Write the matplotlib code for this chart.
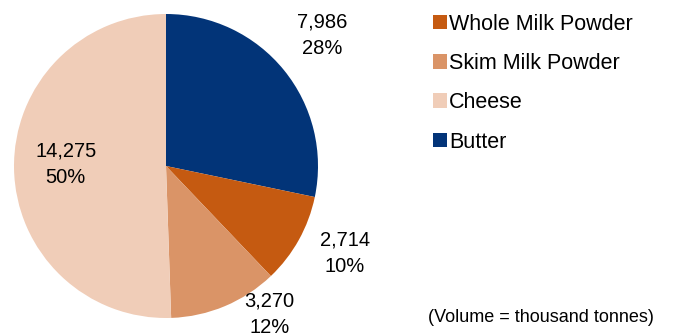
import numpy as np
import matplotlib.pyplot as plt
from matplotlib.patches import Patch

plt.rcParams['font.family'] = ['Liberation Sans', 'DejaVu Sans']

# Wolumen produkcji (tys. ton)
produkty = ['Butter', 'Whole Milk Powder', 'Skim Milk Powder', 'Cheese']
wolumen = [7986, 2714, 3270, 14275]
udzialy = [28, 10, 12, 50]
kolory = ['#023478', '#C55A11', '#DA9467', '#F0CDB8']
kolejnosc_legendy = ['Whole Milk Powder', 'Skim Milk Powder', 'Cheese', 'Butter']

# odleglosc etykiety od srodka (w promieniach) i korekta kata
odleglosc = [1.34, 1.31, 1.19, 0.66]
korekta = [1, 3, 12, -2]

fig = plt.figure(figsize=(6.73, 3.34), dpi=100)
ax = fig.add_axes([14 / 673, 16 / 334, 304 / 673, 304 / 334])

kliny, _ = ax.pie(wolumen, colors=kolory, startangle=90, counterclock=False,
                  radius=1, wedgeprops=dict(linewidth=0))
ax.set_xlim(-1, 1)
ax.set_ylim(-1, 1)
ax.set_aspect('equal')
ax.axis('off')

for klin, v, u, r, k in zip(kliny, wolumen, udzialy, odleglosc, korekta):
    kat = np.deg2rad((klin.theta1 + klin.theta2) / 2 + k)
    ax.text(r * np.cos(kat), r * np.sin(kat), f'{v:,}\n{u}%',
            ha='center', va='center', fontsize=14.5, linespacing=1.5,
            clip_on=False)

# Legenda
uchwyty = [Patch(facecolor=kolory[produkty.index(p)]) for p in kolejnosc_legendy]
fig.legend(uchwyty, kolejnosc_legendy, loc='upper left',
           bbox_to_anchor=(424 / 673, 1 - 5 / 334), frameon=False,
           fontsize=15.5, handlelength=0.65, handleheight=0.65,
           handletextpad=0.12, labelspacing=0.85, borderaxespad=0)

fig.text(428 / 673, 1 - 318 / 334, '(Volume = thousand tonnes)',
         fontsize=13, ha='left', va='center')

plt.savefig('out.png', dpi=100)
